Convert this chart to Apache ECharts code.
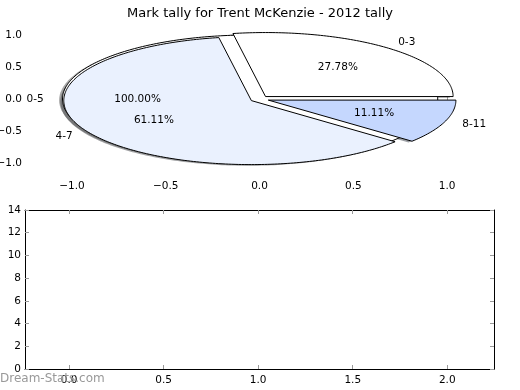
<!DOCTYPE html>
<html>
<head>
<meta charset="utf-8">
<script src="https://cdn.jsdelivr.net/npm/echarts@6/dist/echarts.min.js"></script>
<style>html,body{margin:0;padding:0;background:#fff}#c{width:520px;height:390px}</style>
</head>
<body>
<div id="c"></div>
<script>
const chartTitle = 'Mark tally for Trent McKenzie - 2012 tally';
const watermark = 'Dream-Stats.com';
const baseLabels = ['0-5'];
const baseValues = [1];
const baseColors = ['#ffffff'];
const sliceLabels = ['0-3', '4-7', '8-11'];
const sliceValues = [5, 11, 2];
const sliceColors = ['#ffffff', '#eaf1fe', '#c5d7fe'];
const topXTicks = [-1, -0.5, 0, 0.5, 1];
const topYTicks = [-1, -0.5, 0, 0.5, 1];
const bottomXTicks = [0, 0.5, 1, 1.5, 2];

const FONT = 'DejaVu Sans';
const EXPLODE = 0.05;
const SHADOW = -0.018;

function buildPie(labels, values, colors) {
  const total = values.reduce((a, b) => a + b, 0);
  let acc = 0;
  return values.map((v, i) => {
    const s = acc / total * 360;
    acc += v;
    const e = acc / total * 360;
    return { label: labels[i], value: v, pct: v / total * 100, start: s, end: e, color: colors[i] };
  });
}
const slices = buildPie(baseLabels, baseValues, baseColors).concat(buildPie(sliceLabels, sliceValues, sliceColors));

function slicePoints(sl, api, dx, dy) {
  const rad = Math.PI / 180;
  const mid = (sl.start + sl.end) / 2 * rad;
  const cx = EXPLODE * Math.cos(mid) + dx, cy = EXPLODE * Math.sin(mid) + dy;
  const full = Math.abs(sl.end - sl.start - 360) < 1e-9;
  const pts = [];
  if (!full) pts.push(api.coord([cx, cy]));
  const n = Math.max(8, Math.ceil((sl.end - sl.start) / 1));
  for (let k = 0; k <= n; k++) {
    const a = (sl.start + (sl.end - sl.start) * k / n) * rad;
    pts.push(api.coord([cx + Math.cos(a), cy + Math.sin(a)]));
  }
  return { pts, cx, cy, mid };
}
function darken(hex, f) {
  const n = parseInt(hex.slice(1), 16);
  const r = Math.round(((n >> 16) & 255) * f), g = Math.round(((n >> 8) & 255) * f), b = Math.round((n & 255) * f);
  return 'rgb(' + r + ',' + g + ',' + b + ')';
}
const fmt = v => v.toFixed(1).replace('-', '\u2212');

const axisTick = { show: true, inside: true, length: 4, lineStyle: { color: '#999', width: 1 } };
const lbl = { fontFamily: FONT, fontSize: 10.5, color: '#000' };
const TXT = '10.5px "DejaVu Sans"';

const option = {
  animation: false,
  backgroundColor: '#fff',
  title: { text: chartTitle, left: 'center', top: 2, textStyle: { fontFamily: FONT, fontSize: 13, fontWeight: 'normal', color: '#000' } },
  graphic: [{ type: 'text', left: 0, top: 373, z: 100, style: { text: watermark, fill: '#999', font: '12px "DejaVu Sans"' } }],
  grid: [
    { left: 25, width: 469, top: 19, height: 160, outerBoundsMode: 'none', containLabel: false },
    { left: 25, width: 469, top: 210, height: 159, outerBoundsMode: 'none', containLabel: false }
  ],
  xAxis: [
    { type: 'value', gridIndex: 0, min: -1.25, max: 1.25, position: 'bottom', axisLine: { show: false }, splitLine: { show: false },
      axisTick: Object.assign({ customValues: topXTicks }, axisTick), axisLabel: Object.assign({ customValues: topXTicks, formatter: fmt, margin: 2 }, lbl) },
    { type: 'value', gridIndex: 0, min: -1.25, max: 1.25, position: 'top', axisLine: { show: false }, splitLine: { show: false },
      axisTick: Object.assign({ customValues: topXTicks }, axisTick), axisLabel: { show: false } },
    { type: 'value', gridIndex: 1, min: -0.233, max: 2.247, position: 'bottom', axisLine: { show: true, onZero: false, lineStyle: { color: '#000', width: 1 } }, splitLine: { show: false },
      axisTick: Object.assign({ customValues: bottomXTicks }, axisTick), axisLabel: Object.assign({ customValues: bottomXTicks, formatter: fmt, margin: 6 }, lbl) },
    { type: 'value', gridIndex: 1, min: -0.233, max: 2.247, position: 'top', axisLine: { show: true, onZero: false, lineStyle: { color: '#000', width: 1 } }, splitLine: { show: false },
      axisTick: Object.assign({ customValues: bottomXTicks }, axisTick), axisLabel: { show: false } }
  ],
  yAxis: [
    { type: 'value', gridIndex: 0, min: -1.25, max: 1.25, position: 'left', axisLine: { show: false }, splitLine: { show: false },
      axisTick: Object.assign({ customValues: topYTicks }, axisTick), axisLabel: Object.assign({ customValues: topYTicks, formatter: fmt, margin: 3 }, lbl) },
    { type: 'value', gridIndex: 0, min: -1.25, max: 1.25, position: 'right', axisLine: { show: false }, splitLine: { show: false },
      axisTick: Object.assign({ customValues: topYTicks }, axisTick), axisLabel: { show: false } },
    { type: 'value', gridIndex: 1, min: 0, max: 14, interval: 2, position: 'left', axisLine: { show: true, onZero: false, lineStyle: { color: '#000', width: 1 } }, splitLine: { show: false },
      axisTick: axisTick, axisLabel: Object.assign({ margin: 4 }, lbl) },
    { type: 'value', gridIndex: 1, min: 0, max: 14, interval: 2, position: 'right', axisLine: { show: true, onZero: false, lineStyle: { color: '#000', width: 1 } }, splitLine: { show: false },
      axisTick: axisTick, axisLabel: { show: false } }
  ],
  series: [
    { type: 'custom', xAxisIndex: 0, yAxisIndex: 0, z: 1, clip: false, silent: true,
      data: slices.map((s, i) => [i]),
      renderItem: function (params, api) {
        const sl = slices[params.dataIndex];
        const g = slicePoints(sl, api, SHADOW, SHADOW);
        return { type: 'polygon', shape: { points: g.pts }, style: { fill: darken(sl.color, 0.3), opacity: 0.5, stroke: null } };
      } },
    { type: 'custom', xAxisIndex: 0, yAxisIndex: 0, z: 2, clip: false, silent: true,
      data: slices.map((s, i) => [i]),
      renderItem: function (params, api) {
        const sl = slices[params.dataIndex];
        const g = slicePoints(sl, api, 0, 0);
        const lp = api.coord([g.cx + 1.1 * Math.cos(g.mid), g.cy + 1.1 * Math.sin(g.mid)]);
        const pp = api.coord([g.cx + 0.6 * Math.cos(g.mid), g.cy + 0.6 * Math.sin(g.mid)]);
        const right = (g.cx + 1.1 * Math.cos(g.mid)) > 0;
        return { type: 'group', children: [
          { type: 'polygon', shape: { points: g.pts }, style: { fill: sl.color, stroke: '#000', lineWidth: 1 } },
          { type: 'text', z2: 10, style: { text: sl.label, x: lp[0], y: lp[1], align: right ? 'left' : 'right', verticalAlign: 'middle', fill: '#000', font: TXT } },
          { type: 'text', z2: 10, style: { text: sl.pct.toFixed(2) + '%', x: pp[0], y: pp[1], align: 'center', verticalAlign: 'middle', fill: '#000', font: TXT } }
        ] };
      } },
    { type: 'scatter', xAxisIndex: 2, yAxisIndex: 2, data: [] }
  ]
};
const chart = echarts.init(document.getElementById('c'), null, { renderer: 'canvas' });
chart.setOption(option);
</script>
</body>
</html>
